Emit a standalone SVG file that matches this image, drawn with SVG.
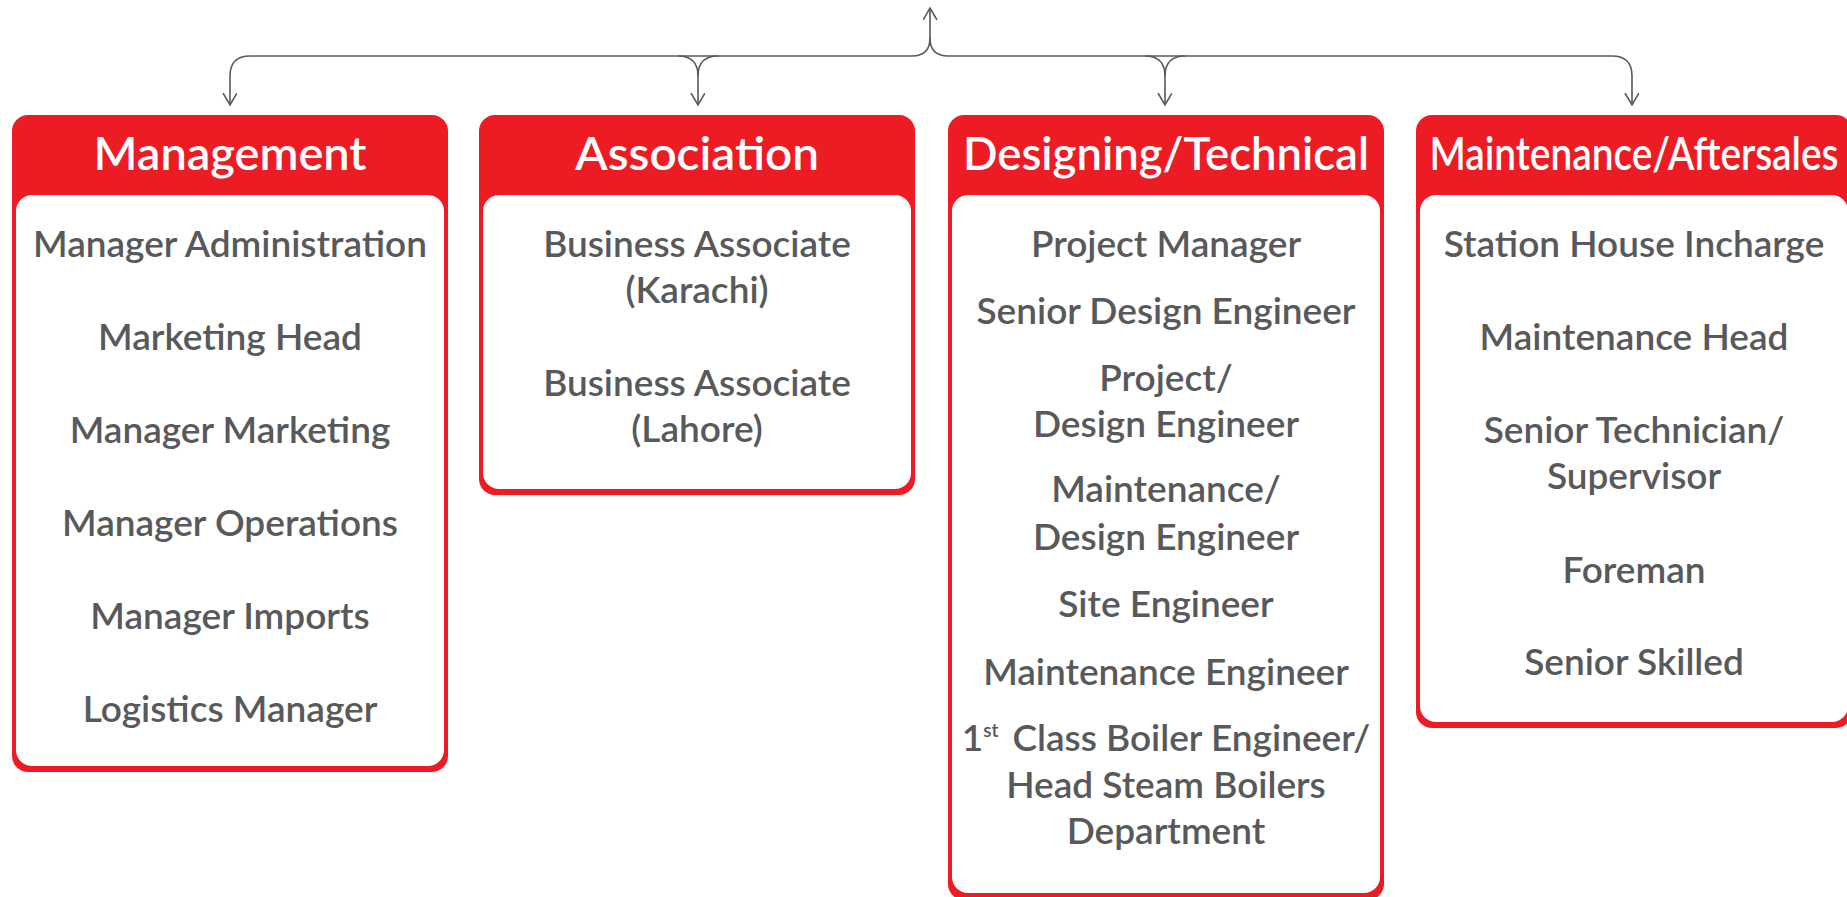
<svg xmlns="http://www.w3.org/2000/svg" width="1847" height="897" viewBox="0 0 1847 897">
<style>
.outer{fill:#ED1C24}
.inner{fill:#FFFFFF}
.title{font-family:Lato,"Liberation Sans",sans-serif;font-weight:600;font-size:46px;fill:#FFFFFF;text-anchor:middle}
.item{font-family:Lato,"Liberation Sans",sans-serif;font-weight:600;font-size:37px;fill:#58595B;text-anchor:middle}
.conn{fill:none;stroke:#58595B;stroke-width:1.6}
</style>
<defs>
<marker id="arr" markerUnits="userSpaceOnUse" markerWidth="20" markerHeight="20" refX="12" refY="7" orient="auto">
<path d="M0,0 L12,7 L0,14" fill="none" stroke="#58595B" stroke-width="1.6"/>
</marker>
</defs>
<g id="connectors">
<path class="conn" d="M 930 38 L 930 8" marker-end="url(#arr)"/>
<path class="conn" d="M 930 38 Q 930 56 912 56 L 250 56 Q 230 56 230 76 L 230 105" marker-end="url(#arr)"/>
<path class="conn" d="M 678 56 Q 698 56 698 76 L 698 105" marker-end="url(#arr)"/>
<path class="conn" d="M 718 56 Q 698 56 698 76"/>
<path class="conn" d="M 930 38 Q 930 56 948 56 L 1612 56 Q 1632 56 1632 76 L 1632 105" marker-end="url(#arr)"/>
<path class="conn" d="M 1145 56 Q 1165 56 1165 76 L 1165 105" marker-end="url(#arr)"/>
<path class="conn" d="M 1185 56 Q 1165 56 1165 76"/>
</g>
<g id="management">
<rect class="outer" x="12" y="115" width="436" height="657" rx="16"/>
<rect class="inner" x="16" y="195" width="428" height="571" rx="16"/>
<text class="title" x="230" y="170" textLength="273" lengthAdjust="spacingAndGlyphs">Management</text>
<text class="item" x="230" y="257">Manager Administration</text>
<text class="item" x="230" y="350">Marketing Head</text>
<text class="item" x="230" y="443">Manager Marketing</text>
<text class="item" x="230" y="536">Manager Operations</text>
<text class="item" x="230" y="629">Manager Imports</text>
<text class="item" x="230" y="722">Logistics Manager</text>
</g>
<g id="association">
<rect class="outer" x="479" y="115" width="436" height="380" rx="16"/>
<rect class="inner" x="483" y="195" width="428" height="294" rx="16"/>
<text class="title" x="697" y="170" textLength="244" lengthAdjust="spacingAndGlyphs">Association</text>
<text class="item" x="697" y="257">Business Associate</text>
<text class="item" x="697" y="303">(Karachi)</text>
<text class="item" x="697" y="396">Business Associate</text>
<text class="item" x="697" y="442">(Lahore)</text>
</g>
<g id="designing">
<rect class="outer" x="948" y="115" width="436" height="785" rx="16"/>
<rect class="inner" x="952" y="195" width="428" height="698" rx="16"/>
<text class="title" x="1166" y="170" textLength="406" lengthAdjust="spacingAndGlyphs">Designing/Technical</text>
<text class="item" x="1166" y="257">Project Manager</text>
<text class="item" x="1166" y="324">Senior Design Engineer</text>
<text class="item" x="1166" y="391">Project/</text>
<text class="item" x="1166" y="437">Design Engineer</text>
<text class="item" x="1166" y="502">Maintenance/</text>
<text class="item" x="1166" y="550">Design Engineer</text>
<text class="item" x="1166" y="617">Site Engineer</text>
<text class="item" x="1166" y="685">Maintenance Engineer</text>
<text class="item" x="1166" y="751">1<tspan font-size="19" dy="-14">st</tspan><tspan dx="14" dy="14">Class Boiler Engineer/</tspan></text>
<text class="item" x="1166" y="798">Head Steam Boilers</text>
<text class="item" x="1166" y="844">Department</text>
</g>
<g id="maintenance">
<rect class="outer" x="1416" y="115" width="436" height="613" rx="16"/>
<rect class="inner" x="1420" y="195" width="428" height="527" rx="16"/>
<text class="title" x="1634" y="170" textLength="409" lengthAdjust="spacingAndGlyphs">Maintenance/Aftersales</text>
<text class="item" x="1634" y="257">Station House Incharge</text>
<text class="item" x="1634" y="350">Maintenance Head</text>
<text class="item" x="1634" y="443">Senior Technician/</text>
<text class="item" x="1634" y="489">Supervisor</text>
<text class="item" x="1634" y="583">Foreman</text>
<text class="item" x="1634" y="675">Senior Skilled</text>
</g>
</svg>
